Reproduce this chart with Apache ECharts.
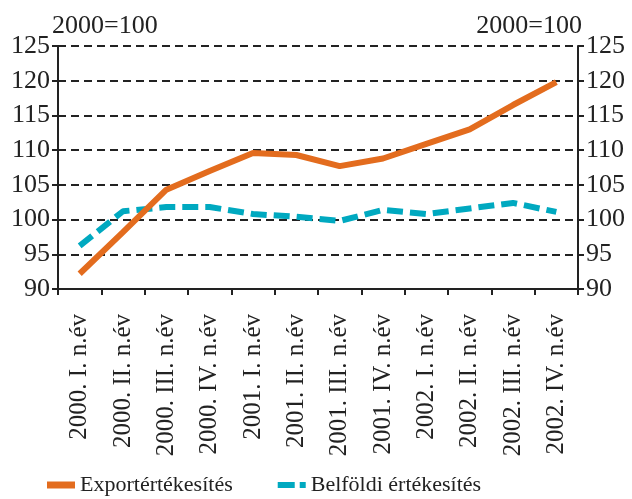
<!DOCTYPE html>
<html>
<head>
<meta charset="utf-8">
<script src="https://cdn.jsdelivr.net/npm/echarts@6/dist/echarts.min.js"></script>
<style>
  html, body { margin: 0; padding: 0; background: #fff; }
  #chart { width: 632px; height: 499px; }
</style>
</head>
<body>
<div id="chart"></div>
<script>
const categories = ['2000. I. n.év', '2000. II. n.év', '2000. III. n.év', '2000. IV. n.év',
  '2001. I. n.év', '2001. II. n.év', '2001. III. n.év', '2001. IV. n.év',
  '2002. I. n.év', '2002. II. n.év', '2002. III. n.év', '2002. IV. n.év'];
const exportValues = [92.2, 98.2, 104.3, 107.0, 109.6, 109.3, 107.7, 108.8, 110.9, 113.0, 116.5, 119.8];
const domesticValues = [96.2, 101.2, 101.8, 101.8, 100.8, 100.4, 99.8, 101.4, 100.8, 101.6, 102.4, 101.1];
const seriesNames = ['Exportértékesítés', 'Belföldi értékesítés'];
const unitLabel = '2000=100';

const font = '"Liberation Serif", "DejaVu Serif", serif';
const orange = '#E36C1E';
const teal = '#00A9C0';

const myChart = echarts.init(document.getElementById('chart'), null, { renderer: 'canvas' });

const yAxisBase = {
  type: 'value',
  min: 90,
  max: 125,
  interval: 5,
  axisLine: { show: true, lineStyle: { color: '#222', width: 2 } },
  axisTick: { show: true, length: 6, lineStyle: { color: '#222', width: 2 } },
  axisLabel: { color: '#222', fontFamily: font, fontSize: 26, margin: 8 }
};

const option = {
  animation: false,
  title: [
    { text: unitLabel, left: 47, top: 8, textStyle: { fontFamily: font, fontSize: 26, fontWeight: 'normal', color: '#222' } },
    { text: unitLabel, right: 45, top: 8, textStyle: { fontFamily: font, fontSize: 26, fontWeight: 'normal', color: '#222' } }
  ],
  grid: { left: 58, right: 54, top: 46, bottom: 210 },
  legend: {
    bottom: -2,
    left: 42,
    itemGap: 45,
    itemWidth: 28,
    itemHeight: 7,
    textStyle: { fontFamily: font, fontSize: 22, color: '#222' },
    data: [
      { name: seriesNames[0], icon: 'rect', itemStyle: { color: orange } },
      { name: seriesNames[1], icon: 'path://M0,0H17V6H0Z M22,0H28V6H22Z', itemStyle: { color: teal } }
    ]
  },
  xAxis: {
    type: 'category',
    data: categories,
    boundaryGap: true,
    axisLine: { lineStyle: { color: '#222', width: 2 } },
    axisTick: { show: true, length: 6, lineStyle: { color: '#222', width: 2 } },
    axisLabel: { rotate: 90, interval: 0, color: '#222', fontFamily: font, fontSize: 25, margin: 25 }
  },
  yAxis: [
    Object.assign({}, yAxisBase, {
      position: 'left',
      splitLine: { show: true, lineStyle: { color: '#222', width: 2, type: [8, 5] } }
    }),
    Object.assign({}, yAxisBase, {
      position: 'right',
      splitLine: { show: false }
    })
  ],
  series: [
    {
      name: seriesNames[0],
      type: 'line',
      data: exportValues,
      symbol: 'none',
      color: orange,
      lineStyle: { color: orange, width: 6 },
      z: 3
    },
    {
      name: seriesNames[1],
      type: 'line',
      data: domesticValues,
      symbol: 'none',
      color: teal,
      lineStyle: { color: teal, width: 6, type: [16, 7] },
      z: 2
    }
  ]
};

myChart.setOption(option);
</script>
</body>
</html>
